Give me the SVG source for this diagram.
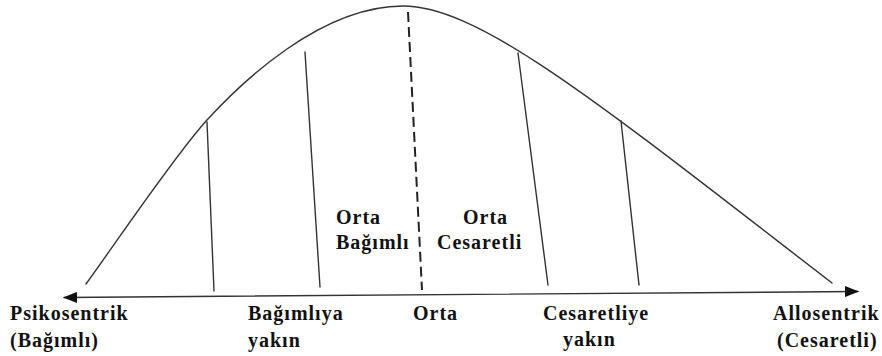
<svg xmlns="http://www.w3.org/2000/svg" width="882" height="356" viewBox="0 0 882 356">
<style>
.ln{stroke:#333;stroke-width:1.4;fill:none;stroke-linecap:round}
.ds{stroke:#222;stroke-width:2;fill:none;stroke-dasharray:10 5}
.t{font-family:"Liberation Serif","Times New Roman",serif;font-weight:bold;font-size:20px;fill:#111;letter-spacing:1px}
</style>
<defs>
<marker id="ah" viewBox="0 0 14 11" refX="13" refY="5.5" markerWidth="14" markerHeight="11" markerUnits="userSpaceOnUse" orient="auto-start-reverse">
<path d="M0,0 L14,5.5 L0,11 Z" fill="#111"/>
</marker>
</defs>
<rect width="882" height="356" fill="#fff"/>
<g id="curve">
<path class="ln" d="M86,284 C118,240 175,155 207,120 C240,84 320,6 403,6 C480,6 600,104 832,283"/>
</g>
<g id="connectors">
<line class="ln" x1="64" y1="297.5" x2="858" y2="291.5" marker-start="url(#ah)" marker-end="url(#ah)"/>
<line class="ln" x1="207" y1="122" x2="214" y2="291"/>
<line class="ln" x1="305" y1="52" x2="320" y2="287"/>
<line class="ds" x1="408" y1="12" x2="422" y2="290"/>
<line class="ln" x1="518" y1="53" x2="548" y2="285"/>
<line class="ln" x1="621" y1="121" x2="639" y2="285"/>
</g>
<g id="label-psikosentrik">
<text class="t" x="10" y="320">Psikosentrik</text>
<text class="t" x="10" y="347">(Bağımlı)</text>
</g>
<g id="label-bagimliya">
<text class="t" x="248" y="320">Bağımlıya</text>
<text class="t" x="248" y="347">yakın</text>
</g>
<g id="label-orta">
<text class="t" x="413" y="320">Orta</text>
</g>
<g id="label-cesaretliye">
<text class="t" x="543" y="320">Cesaretliye</text>
<text class="t" x="563" y="346">yakın</text>
</g>
<g id="label-allosentrik">
<text class="t" x="773" y="320">Allosentrik</text>
<text class="t" x="777" y="347">(Cesaretli)</text>
</g>
<g id="label-orta-bagimli">
<text class="t" x="336" y="224">Orta</text>
<text class="t" x="336" y="249">Bağımlı</text>
</g>
<g id="label-orta-cesaretli">
<text class="t" x="463" y="224">Orta</text>
<text class="t" x="437" y="249">Cesaretli</text>
</g>
</svg>
